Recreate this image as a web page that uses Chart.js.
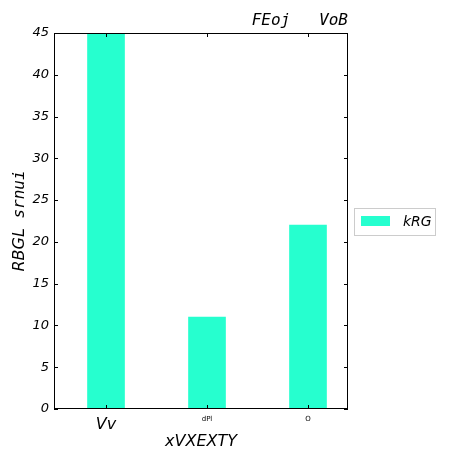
<!DOCTYPE html>
<html>
<head>
<meta charset="utf-8">
<script src="https://cdn.jsdelivr.net/npm/chart.js@4/dist/chart.umd.min.js"></script>
<style>
  html, body { margin: 0; padding: 0; background: #fff; }
  #wrap { width: 462px; height: 462px; }
</style>
</head>
<body>
<div id="wrap"><canvas id="c" width="462" height="462"></canvas></div>
<script>
// data
var categories = ['Vv', 'dPl', 'O'];
var values = [45, 11, 22];
var seriesName = 'kRG';
var yTicks = [0, 5, 10, 15, 20, 25, 30, 35, 40, 45];

var barColor = '#26ffcf';
var sans = '"DejaVu Sans", sans-serif';
var mono = '"DejaVu Sans Mono", monospace';

var points = [];
for (var i = 0; i < categories.length; i++) {
  points.push({ x: i, y: values[i] });
}

// ticks inside, frame, title, legend, axis titles
var decor = {
  id: 'decor',
  afterDraw: function (chart) {
    var ctx = chart.ctx;
    var a = chart.chartArea;
    var xs = chart.scales.x, ys = chart.scales.y;
    ctx.save();
    ctx.strokeStyle = '#000';
    ctx.lineWidth = 1;
    ctx.strokeRect(a.left + 0.5, a.top + 0.5, a.right - a.left - 1, a.bottom - a.top - 1);
    ctx.beginPath();
    yTicks.forEach(function (v) {
      var py = Math.round(ys.getPixelForValue(v)) + 0.5;
      ctx.moveTo(a.left, py); ctx.lineTo(a.left + 4, py);
      ctx.moveTo(a.right, py); ctx.lineTo(a.right - 4, py);
    });
    for (var k = 0; k < categories.length; k++) {
      var px = Math.round(xs.getPixelForValue(k)) + 0.5;
      ctx.moveTo(px, a.bottom); ctx.lineTo(px, a.bottom - 4);
      ctx.moveTo(px, a.top); ctx.lineTo(px, a.top + 4);
    }
    ctx.stroke();

    // title
    ctx.fillStyle = '#000';
    ctx.font = 'italic 16px ' + mono;
    ctx.textAlign = 'right';
    ctx.textBaseline = 'alphabetic';
    ctx.fillText('FEoj   VoB', a.right, 25);

    // x axis title
    ctx.font = 'italic 16px ' + sans;
    ctx.textAlign = 'center';
    ctx.fillText('xVXEXTY', (a.left + a.right) / 2, 446);

    // y axis title (mixed fonts)
    ctx.save();
    ctx.translate(24, (a.top + a.bottom) / 2);
    ctx.rotate(-Math.PI / 2);
    ctx.textAlign = 'left';
    var p1 = 'RBGL', p2 = ' srnui';
    ctx.font = 'italic 16px ' + sans;
    var w1 = ctx.measureText(p1).width;
    ctx.font = 'italic 16px ' + mono;
    var w2 = ctx.measureText(p2).width;
    var x0 = -(w1 + w2) / 2;
    ctx.font = 'italic 16px ' + sans;
    ctx.fillText(p1, x0, 0);
    ctx.font = 'italic 16px ' + mono;
    ctx.fillText(p2, x0 + w1, 0);
    ctx.restore();

    // legend
    var lx = 354, ly = 208, lw = 81, lh = 27;
    ctx.strokeStyle = '#cccccc';
    ctx.strokeRect(lx + 0.5, ly + 0.5, lw, lh);
    ctx.fillStyle = barColor;
    ctx.fillRect(lx + 7, ly + 8, 29, 10);
    ctx.fillStyle = '#000';
    ctx.font = 'italic 14px ' + sans;
    ctx.textAlign = 'left';
    ctx.textBaseline = 'middle';
    ctx.fillText(seriesName, lx + 49, ly + 14);
    ctx.restore();
  }
};

new Chart(document.getElementById('c'), {
  type: 'bar',
  data: {
    datasets: [{
      label: seriesName,
      data: points,
      backgroundColor: barColor,
      borderWidth: 0,
      barThickness: 37
    }]
  },
  options: {
    responsive: false,
    animation: false,
    layout: { padding: { top: 33, right: 114, left: 0, bottom: 0 } },
    plugins: {
      legend: { display: false },
      title: { display: false },
      tooltip: { enabled: false }
    },
    scales: {
      x: {
        type: 'linear',
        offset: false,
        min: -0.515,
        max: 2.396,
        afterBuildTicks: function (scale) {
          scale.ticks = categories.map(function (c, i) { return { value: i }; });
        },
        afterFit: function (scale) { scale.height = 53; },
        grid: { display: false, drawTicks: false, offset: false },
        border: { display: false },
        ticks: {
          padding: 6,
          maxRotation: 0,
          autoSkip: false,
          color: '#000',
          callback: function (v) { return categories[v]; },
          font: function (c) {
            return c.index === 0 ? { family: sans, size: 16, style: 'italic' } : { family: sans, size: 7 };
          }
        }
      },
      y: {
        min: 0,
        max: 45,
        afterBuildTicks: function (scale) {
          scale.ticks = yTicks.map(function (v) { return { value: v }; });
        },
        afterFit: function (scale) { scale.width = 54; },
        grid: { display: false, drawTicks: false },
        border: { display: false },
        ticks: {
          padding: 5,
          color: '#000',
          font: { family: sans, size: 13, style: 'italic' }
        }
      }
    }
  },
  plugins: [decor]
});
</script>
</body>
</html>
